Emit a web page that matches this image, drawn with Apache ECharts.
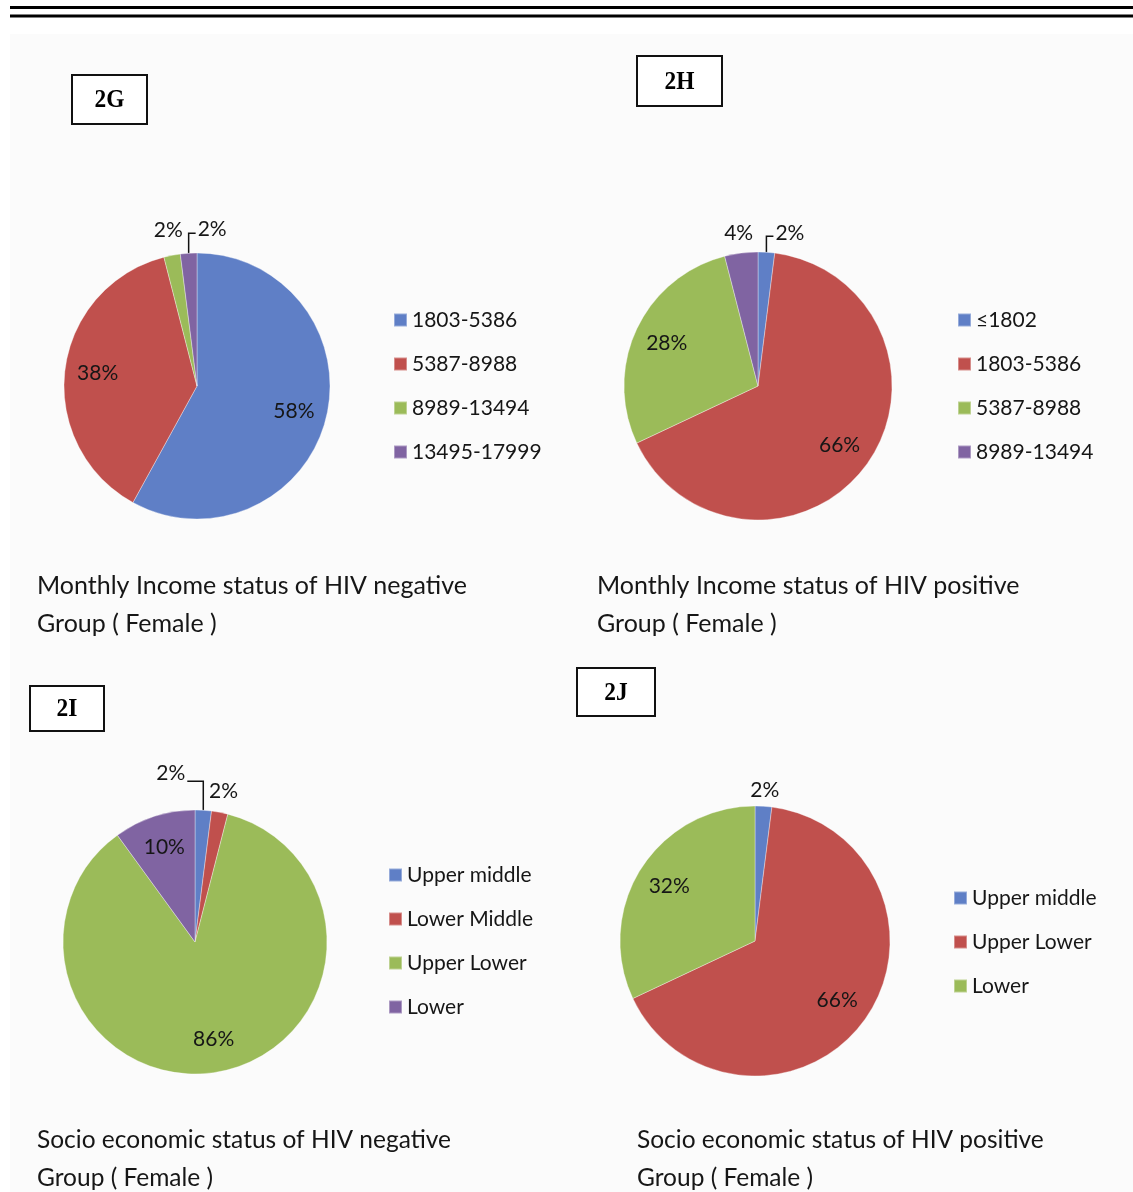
<!DOCTYPE html>
<html>
<head>
<meta charset="utf-8">
<script src="https://cdn.jsdelivr.net/npm/echarts@6/dist/echarts.min.js"></script>
<style>
html,body{margin:0;padding:0;background:#fff;}
#chart{width:1133px;height:1192px;}
</style>
</head>
<body>
<div id="chart"></div>
<script>
// ---------- DATA ----------
const panelNames = ['2G', '2H', '2I', '2J'];

const gCategories = ['1803-5386', '5387-8988', '8989-13494', '13495-17999'];
const gValues = [58, 38, 2, 2];

const hCategories = ['≤1802', '1803-5386', '5387-8988', '8989-13494'];
const hValues = [2, 66, 28, 4];

const iCategories = ['Upper middle', 'Lower Middle', 'Upper Lower', 'Lower'];
const iValues = [2, 2, 86, 10];

const jCategories = ['Upper middle', 'Upper Lower', 'Lower'];
const jValues = [2, 66, 32];

const panelTitles = [
  'Monthly Income status of HIV negative\nGroup ( Female )',
  'Monthly Income status of HIV positive\nGroup ( Female )',
  'Socio economic status of HIV negative\nGroup ( Female )',
  'Socio economic status of HIV positive\nGroup ( Female )'
];

// ---------- STYLE ----------
const BLUE = '#5f7fc6', RED = '#c0504d', GREEN = '#9bbb59', PURPLE = '#8064a2';
const FONT = 'Lato, "Open Sans", sans-serif';
const TXT = '#161616';

const panels = [
  { cats: gCategories, vals: gValues, colors: [BLUE, RED, GREEN, PURPLE],
    center: [197, 386], r: 133, legendLeft: 393, legendTop: 308,
    titleLeft: 37, titleTop: 567, titleSize: 25, box: [72, 75, 75, 49],
    leaders: { 3: { rise: 20, run: 7, lift: 4 } }, lift: { 2: 5 } },
  { cats: hCategories, vals: hValues, colors: [BLUE, RED, GREEN, PURPLE],
    center: [758, 386], r: 134, legendLeft: 957, legendTop: 308,
    titleLeft: 597, titleTop: 567, titleSize: 25, box: [637, 56, 85, 50],
    leaders: { 0: { rise: 16, run: 7, lift: 3 } }, lift: { 3: 0 } },
  { cats: iCategories, vals: iValues, colors: [BLUE, RED, GREEN, PURPLE],
    center: [195, 942], r: 132, legendLeft: 388, legendTop: 863,
    titleLeft: 37, titleTop: 1121, titleSize: 24.5, box: [30, 686, 74, 45],
    leaders: { 0: { rise: 29, run: -16, lift: 8 } }, lift: { 1: 1 } },
  { cats: jCategories, vals: jValues, colors: [BLUE, RED, GREEN],
    center: [755, 941], r: 135, legendLeft: 953, legendTop: 886,
    titleLeft: 637, titleTop: 1121, titleSize: 24.5, box: [577, 668, 78, 48],
    leaders: {}, lift: { 0: -4 } }
];

function makeLayout(p) {
  return function (params) {
    const pts = params.labelLinePoints;
    if (!pts) return {};
    const a = pts[0];
    const lead = p.leaders[params.dataIndex];
    if (lead) {
      const corner = [a[0], a[1] - lead.rise];
      const end = [a[0] + lead.run, a[1] - lead.rise];
      return {
        x: end[0] + (lead.run > 0 ? 2 : -2),
        y: end[1] - lead.lift,
        align: lead.run > 0 ? 'left' : 'right',
        verticalAlign: 'middle',
        labelLinePoints: [a, corner, end]
      };
    }
    const extra = (p.lift && p.lift[params.dataIndex]) || 0;
    const m = pts[1];
    return { x: m[0], y: m[1] - extra, align: 'center', verticalAlign: 'middle',
             labelLinePoints: [a, a, a] };
  };
}

const series = [];
const legends = [];
const titles = [];
const graphics = [];

// page decoration
graphics.push({ type: 'rect', z: -10, shape: { x: 10, y: 34, width: 1123, height: 1158 }, style: { fill: '#fbfbfb' } });
graphics.push({ type: 'rect', shape: { x: 10, y: 6, width: 1123, height: 3 }, style: { fill: '#000' } });
graphics.push({ type: 'rect', shape: { x: 10, y: 14.5, width: 1123, height: 3 }, style: { fill: '#000' } });

panels.forEach(function (p, k) {
  const data = p.cats.map(function (c, i) {
    return {
      name: c, value: p.vals[i],
      itemStyle: { color: p.colors[i] },
      label: { show: p.vals[i] < 5 },
      labelLine: { show: true }
    };
  });
  // main pie (with outside labels for small slices)
  series.push({
    type: 'pie', center: p.center, radius: [0, p.r],
    startAngle: 90, clockwise: true, avoidLabelOverlap: false,
    silent: true, animation: false,
    itemStyle: { borderColor: 'rgba(255,255,255,0.35)', borderWidth: 1 },
    label: { position: 'outside', formatter: '{c}%', fontFamily: FONT, fontSize: 21, color: TXT },
    labelLine: { show: true, length: 20, length2: 0, smooth: false,
                 lineStyle: { color: '#111', width: 1.5 } },
    labelLayout: makeLayout(p),
    data: data
  });
  // transparent ring used to place labels of large slices
  series.push({
    type: 'pie', center: p.center, radius: [p.r * 0.46, p.r],
    startAngle: 90, clockwise: true, avoidLabelOverlap: false,
    silent: true, animation: false,
    itemStyle: { color: 'transparent', borderWidth: 0 },
    label: { position: 'inside', formatter: '{c}%', fontFamily: FONT, fontSize: 21, color: TXT },
    labelLine: { show: false },
    data: p.cats.map(function (c, i) {
      return { name: c, value: p.vals[i], label: { show: p.vals[i] >= 5 } };
    })
  });
  legends.push({
    orient: 'vertical', left: p.legendLeft, top: p.legendTop, padding: 0,
    itemWidth: 13, itemHeight: 13, itemGap: 20, icon: 'rect', selectedMode: false,
    textStyle: { fontFamily: FONT, fontSize: 21, lineHeight: 24, color: TXT },
    data: p.cats.map(function (c, i) { return { name: c, itemStyle: { color: p.colors[i] } }; })
  });
  titles.push({
    text: panelTitles[k], left: p.titleLeft, top: p.titleTop, padding: 0,
    textStyle: { fontFamily: FONT, fontSize: p.titleSize, fontWeight: 'normal', lineHeight: 38, color: TXT }
  });
  const b = p.box;
  graphics.push({ type: 'rect', shape: { x: b[0], y: b[1], width: b[2], height: b[3] },
                  style: { fill: '#fff', stroke: '#111', lineWidth: 2 } });
  graphics.push({ type: 'text', x: b[0] + b[2] / 2, y: b[1] + b[3] / 2 + 1, scaleX: 0.9,
                  style: { text: panelNames[k], fill: '#000', align: 'center', verticalAlign: 'middle',
                           font: 'bold 26px "Liberation Serif", "DejaVu Serif", serif' } });
});

const chart = echarts.init(document.getElementById('chart'), null, { renderer: 'canvas' });
chart.setOption({
  backgroundColor: '#ffffff',
  animation: false,
  title: titles,
  legend: legends,
  graphic: graphics,
  series: series
});
</script>
</body>
</html>
